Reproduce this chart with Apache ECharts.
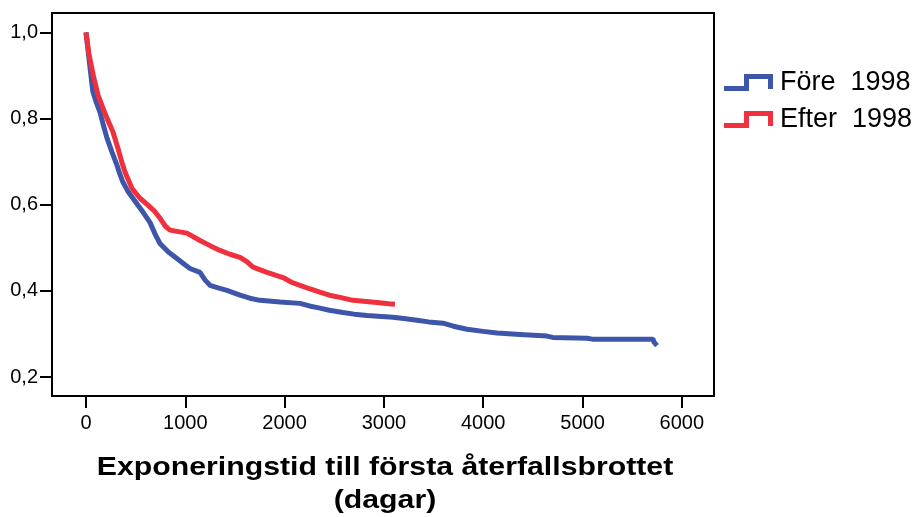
<!DOCTYPE html>
<html>
<head>
<meta charset="utf-8">
<script src="https://cdn.jsdelivr.net/npm/echarts@6/dist/echarts.min.js"></script>
<style>
  html, body { margin: 0; padding: 0; background: #fff; }
  #chart { width: 918px; height: 517px; }
</style>
</head>
<body>
<div id="chart"></div>
<script>
// Kaplan-Meier curves
const foreDays = [0, 20, 45, 70, 100, 141, 175, 211, 262, 312, 340, 373, 420, 473, 520, 574, 644, 700, 745, 830, 916, 1000, 1047, 1148, 1200, 1249, 1330, 1420, 1551, 1650, 1752, 1954, 2155, 2250, 2356, 2450, 2588, 2700, 2830, 3091, 3200, 3333, 3450, 3595, 3700, 3837, 4000, 4139, 4370, 4642, 4700, 5045, 5100, 5710, 5720, 5750]
const foreSurv = [1.0, 0.96, 0.91, 0.862, 0.84, 0.815, 0.785, 0.755, 0.722, 0.692, 0.672, 0.652, 0.632, 0.615, 0.6, 0.583, 0.559, 0.53, 0.51, 0.49, 0.475, 0.46, 0.452, 0.443, 0.425, 0.413, 0.407, 0.401, 0.39, 0.383, 0.378, 0.374, 0.371, 0.365, 0.36, 0.355, 0.35, 0.346, 0.343, 0.339, 0.336, 0.332, 0.328, 0.325, 0.318, 0.311, 0.306, 0.302, 0.299, 0.295, 0.292, 0.29, 0.288, 0.288, 0.281, 0.273]

const efterDays = [0, 30, 73, 121, 170, 211, 272, 322, 360, 393, 463, 544, 624, 690, 745, 800, 846, 1017, 1148, 1250, 1349, 1450, 1551, 1620, 1682, 1823, 1984, 2070, 2155, 2250, 2356, 2450, 2558, 2689, 2930, 3050, 3111]
const efterSurv = [1.0, 0.95, 0.901, 0.855, 0.825, 0.801, 0.769, 0.731, 0.7, 0.676, 0.638, 0.615, 0.599, 0.585, 0.569, 0.55, 0.541, 0.534, 0.517, 0.505, 0.494, 0.485, 0.478, 0.468, 0.455, 0.443, 0.431, 0.42, 0.413, 0.405, 0.397, 0.39, 0.385, 0.378, 0.373, 0.37, 0.369]

const xTicks = [0, 1000, 2000, 3000, 4000, 5000, 6000]
const yTicks = [0.2, 0.4, 0.6, 0.8, 1.0]

const seriesNames = ['Före  1998', 'Efter  1998']
const COLORS = ['#3d56aa', '#f0303c']

const FONT = 'Arial, "Liberation Sans", sans-serif'
const STEP_ICON = 'path://M0,12 H20 V0 H49 V15 H44 V5 H25 V17 H0 Z'

const zip = (xs, ys) => xs.map((x, i) => [x, ys[i]])

const chart = echarts.init(document.getElementById('chart'))

chart.setOption({
  animation: false,
  grid: {
    left: 52, right: 204, top: 13, bottom: 121,
    show: true, borderColor: '#000', borderWidth: 2,
  },
  xAxis: {
    type: 'value',
    min: -342, max: 6324,
    splitLine: { show: false },
    axisLine: { onZero: false, lineStyle: { color: '#000', width: 2 } },
    axisTick: { customValues: xTicks, length: 12, lineStyle: { color: '#000', width: 2 } },
    axisLabel: {
      customValues: xTicks, margin: 17, fontSize: 20, color: '#000', fontFamily: FONT,
      formatter: (v) => String(v),
    },
  },
  yAxis: {
    type: 'value',
    min: 0.156, max: 1.045,
    splitLine: { show: false },
    axisLine: { onZero: false, lineStyle: { color: '#000', width: 2 } },
    axisTick: { customValues: yTicks, length: 12, lineStyle: { color: '#000', width: 2 } },
    axisLabel: {
      customValues: yTicks, margin: 14, fontSize: 20, color: '#000', fontFamily: FONT,
      formatter: (v) => v.toFixed(1).replace('.', ','),
    },
  },
  legend: {
    orient: 'vertical',
    left: 719, top: 64,
    icon: STEP_ICON,
    itemWidth: 49, itemHeight: 17,
    itemGap: 10,
    itemStyle: { borderWidth: 0 },
    textStyle: { fontSize: 27, color: '#000', fontFamily: FONT, padding: [0, 0, 0, 2] },
    data: seriesNames,
  },
  series: [
    {
      name: seriesNames[0],
      type: 'line',
      showSymbol: false,
      symbol: 'none',
      data: zip(foreDays, foreSurv),
      itemStyle: { color: COLORS[0] },
      lineStyle: { color: COLORS[0], width: 5 },
    },
    {
      name: seriesNames[1],
      type: 'line',
      showSymbol: false,
      symbol: 'none',
      data: zip(efterDays, efterSurv),
      itemStyle: { color: COLORS[1] },
      lineStyle: { color: COLORS[1], width: 5 },
    },
  ],
  graphic: [
    {
      type: 'text', x: 385, y: 481, scaleX: 1.21,
      style: {
        text: 'Exponeringstid till första återfallsbrottet',
        font: 'bold 25px ' + FONT, fill: '#000',
        textAlign: 'center', textVerticalAlign: 'bottom',
      },
    },
    {
      type: 'text', x: 385, y: 514, scaleX: 1.21,
      style: {
        text: '(dagar)',
        font: 'bold 25px ' + FONT, fill: '#000',
        textAlign: 'center', textVerticalAlign: 'bottom',
      },
    },
  ],
})
</script>
</body>
</html>
